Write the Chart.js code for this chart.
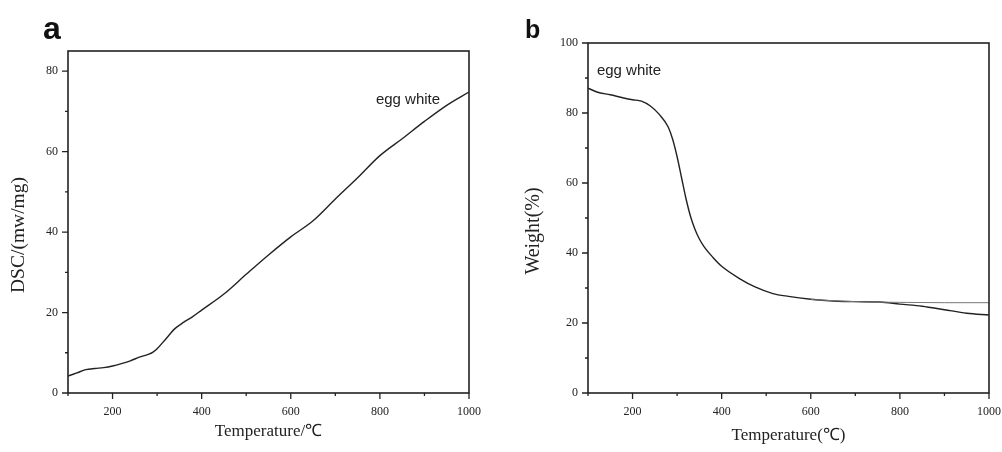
<!DOCTYPE html>
<html>
<head>
<meta charset="utf-8">
<script src="https://cdn.jsdelivr.net/npm/chart.js@4"></script>
<style>
  body { margin: 0; background: #fff; width: 1002px; height: 452px; overflow: hidden; position: relative; }
  .panel { position: absolute; top: 0; height: 452px; }
  #boxA { left: 0; width: 500px; }
  #boxB { left: 500px; width: 502px; }
  .tag { position: absolute; font-family: "Liberation Sans", Arial, sans-serif; font-weight: bold; color: #111; line-height: 1; }
</style>
</head>
<body>
<div class="panel" id="boxA"><canvas id="chartA"></canvas></div>
<div class="panel" id="boxB"><canvas id="chartB"></canvas></div>
<div class="tag" style="left:43px; top:12px; font-size:32px;">a</div>
<div class="tag" style="left:525px; top:17px; font-size:25px;">b</div>
<script>
// panel a: DSC curve
var tempA = [100, 120, 140, 160, 180, 200, 220, 240, 260, 280, 290, 300, 320, 340, 360, 380, 400, 450, 500, 550, 600, 650, 700, 750, 800, 850, 900, 950, 1000];
var dscA  = [4.2, 5.0, 5.8, 6.1, 6.3, 6.7, 7.3, 8.0, 8.9, 9.6, 10.1, 11.0, 13.5, 16.0, 17.6, 19.0, 20.6, 24.6, 29.5, 34.3, 38.8, 42.8, 48.2, 53.5, 59.0, 63.2, 67.5, 71.5, 74.8];

// panel b: TG curve and the flat baseline line near the end
var tempB   = [100, 120, 150, 180, 200, 220, 240, 260, 280, 290, 300, 310, 320, 330, 340, 350, 360, 380, 400, 440, 475, 515, 550, 600, 650, 700, 755, 800, 850, 900, 950, 1000];
var weightB = [87.1, 86.0, 85.2, 84.3, 83.8, 83.4, 82.0, 79.6, 76.0, 72.5, 67.5, 61.5, 55.5, 50.5, 46.8, 44.0, 41.9, 38.8, 36.2, 32.7, 30.3, 28.4, 27.6, 26.8, 26.3, 26.1, 26.0, 25.4, 24.8, 23.8, 22.8, 22.3];
var tempB2   = [600, 700, 800, 900, 1000];
var weightB2 = [26.7, 26.1, 25.9, 25.8, 25.8];

var xTicks = [200, 400, 600, 800, 1000];
var yTicksA = [0, 20, 40, 60, 80];
var yTicksB = [0, 20, 40, 60, 80, 100];

var serif = '"Liberation Serif", "Times New Roman", serif';

function pts(xs, ys) {
  return xs.map(function (x, i) { return { x: x, y: ys[i] }; });
}

// frame, tick marks, y title and the text label
var framePlugin = {
  id: 'frame',
  afterDraw: function (chart, args, opts) {
    var ctx = chart.ctx, a = chart.chartArea;
    var xs = chart.scales.x, ys = chart.scales.y;
    ctx.save();
    ctx.strokeStyle = '#222';
    ctx.lineWidth = 1.6;
    ctx.strokeRect(a.left, a.top, a.right - a.left, a.bottom - a.top);
    ctx.lineWidth = 1.3;
    ctx.beginPath();
    for (var v = xs.min; v <= xs.max; v += 100) {
      var px = xs.getPixelForValue(v);
      var len = (v % 200 === 0) ? 6 : 3;
      ctx.moveTo(px, a.bottom);
      ctx.lineTo(px, a.bottom + len);
    }
    for (var w = ys.min; w <= opts.yTop; w += 10) {
      var py = ys.getPixelForValue(w);
      var l2 = (w % 20 === 0) ? 6 : 3;
      ctx.moveTo(a.left, py);
      ctx.lineTo(a.left - l2, py);
    }
    ctx.stroke();
    ctx.fillStyle = '#222';
    ctx.font = '15px "Liberation Sans", Arial, sans-serif';
    ctx.textAlign = 'left';
    ctx.textBaseline = 'middle';
    ctx.fillText(opts.text, xs.getPixelForValue(opts.tx), ys.getPixelForValue(opts.ty));
    // y axis title
    ctx.translate(opts.titleX, opts.titleY);
    ctx.rotate(-Math.PI / 2);
    ctx.textAlign = 'center';
    ctx.font = opts.titleSize + 'px ' + serif;
    ctx.fillText(opts.title, 0, 0);
    ctx.restore();
  }
};

function makeChart(id, datasets, yMax, yTicks, cfg) {
  return new Chart(document.getElementById(id), {
    type: 'line',
    data: { datasets: datasets },
    plugins: [framePlugin],
    options: {
      responsive: true,
      maintainAspectRatio: false,
      animation: false,
      layout: { padding: { left: 0, right: cfg.padRight, top: cfg.padTop, bottom: 0 } },
      plugins: {
        legend: { display: false },
        tooltip: { enabled: false },
        frame: { text: 'egg white', tx: cfg.label[0], ty: cfg.label[1], yTop: yMax,
                 title: cfg.yTitle, titleX: cfg.titlePos[0], titleY: cfg.titlePos[1], titleSize: cfg.titleSize }
      },
      elements: { point: { radius: 0 } },
      scales: {
        x: {
          type: 'linear',
          min: 100, max: 1000,
          afterBuildTicks: function (s) { s.ticks = xTicks.map(function (v) { return { value: v }; }); },
          afterFit: function (s) { s.height = 59; s.paddingLeft = 0; s.paddingRight = 0; },
          grid: { display: false, drawTicks: false },
          border: { display: false },
          ticks: { color: '#222', font: { family: serif, size: 12 }, padding: 12, maxRotation: 0,
                   callback: function (v) { return String(v); } },
          title: { display: true, text: cfg.xTitle, color: '#222', font: { family: serif, size: 17 }, padding: { top: 0, bottom: cfg.xTitlePad } }
        },
        y: {
          type: 'linear',
          min: 0, max: yMax === 80 ? 85 : 100,
          afterBuildTicks: function (s) { s.ticks = yTicks.map(function (v) { return { value: v }; }); },
          afterFit: function (s) { s.width = cfg.yWidth; s.paddingTop = 0; s.paddingBottom = 0; },
          grid: { display: false, drawTicks: false },
          border: { display: false },
          ticks: { color: '#222', font: { family: serif, size: 12 }, padding: 10,
                   callback: function (v) { return String(v); } }
        }
      }
    }
  });
}

makeChart('chartA', [
  { data: pts(tempA, dscA), borderColor: '#222', borderWidth: 1.4, cubicInterpolationMode: 'monotone', fill: false }
], 80, yTicksA, {
  yTitle: 'DSC/(mw/mg)', xTitle: 'Temperature/℃', yWidth: 68, padRight: 31, padTop: 51,
  label: [791, 72.8], titlePos: [19, 235], titleSize: 19.5, xTitlePad: 10
});

makeChart('chartB', [
  { data: pts(tempB2, weightB2), borderColor: '#777', borderWidth: 1, cubicInterpolationMode: 'monotone', fill: false },
  { data: pts(tempB, weightB), borderColor: '#222', borderWidth: 1.4, cubicInterpolationMode: 'monotone', fill: false }
], 100, yTicksB, {
  yTitle: 'Weight(%)', xTitle: 'Temperature(℃)', yWidth: 88, padRight: 13, padTop: 43,
  label: [120, 92.0], titlePos: [34, 231], titleSize: 20, xTitlePad: 6
});
</script>
</body>
</html>
